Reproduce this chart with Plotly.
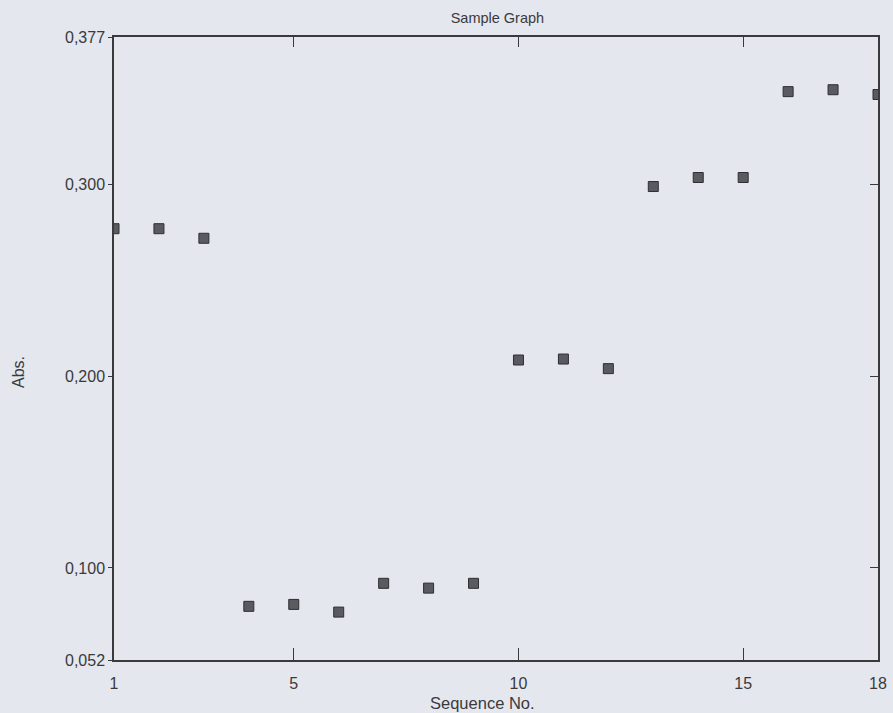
import plotly.graph_objects as go

# Absorbance readings per sequence number
sequence = list(range(1, 19))
absorbance = [0.277, 0.277, 0.272, 0.080, 0.081, 0.077, 0.092, 0.0895, 0.092,
              0.2085, 0.209, 0.204, 0.299, 0.3037, 0.3037, 0.3485, 0.3495, 0.347]

x_ticks = [1, 5, 10, 15, 18]
y_ticks = [0.052, 0.100, 0.200, 0.300, 0.377]
y_tick_text = ["0,052", "0,100", "0,200", "0,300", "0,377"]

bg = "#e4e7ee"
ink = "#3a3a3c"
font_family = "Liberation Sans, Arial, sans-serif"

x_range = [1, 18]
y_range = [0.052, 0.377]

fig = go.Figure()
fig.add_trace(go.Scatter(
    x=sequence, y=absorbance, mode="markers",
    marker=dict(symbol="square", size=10, color="#5a5b60",
                line=dict(color="#2e2f33", width=1)),
    cliponaxis=True, showlegend=False,
))
# Transparent copy on the mirrored axes so the top/right frame is drawn
fig.add_trace(go.Scatter(
    x=sequence, y=absorbance, xaxis="x2", yaxis="y2", mode="markers",
    marker=dict(opacity=0), hoverinfo="skip", showlegend=False,
))

W, H = 893, 713
fig.update_layout(
    width=W, height=H,
    margin=dict(l=114, r=15, t=37, b=53, autoexpand=False),
    paper_bgcolor=bg, plot_bgcolor=bg,
    font=dict(family=font_family, size=14, color=ink),
    title=dict(text="Sample Graph", x=0.557, xanchor="center", y=0.975,
               yanchor="middle", font=dict(size=14.5, color=ink)),
    xaxis=dict(
        range=x_range, tickvals=x_ticks, ticktext=[str(v) for v in x_ticks],
        ticks="inside", ticklen=12, tickwidth=1.2, tickcolor=ink,
        showline=True, linecolor=ink, linewidth=1.5,
        showgrid=False, zeroline=False, ticklabelstandoff=8,
        automargin=False, tickfont=dict(size=16),
    ),
    yaxis=dict(
        range=y_range, tickvals=y_ticks, ticktext=y_tick_text,
        ticks="outside", ticklen=4, tickwidth=1.2, tickcolor=ink,
        showline=True, linecolor=ink, linewidth=1.5,
        showgrid=False, zeroline=False, automargin=False,
        tickfont=dict(size=16),
    ),
    xaxis2=dict(
        overlaying="x", side="top", range=x_range, tickvals=x_ticks,
        ticks="inside", ticklen=10, tickwidth=1.2, tickcolor=ink,
        showticklabels=False, showline=True, linecolor=ink, linewidth=1.5,
        showgrid=False, zeroline=False,
    ),
    yaxis2=dict(
        overlaying="y", side="right", range=y_range, tickvals=y_ticks,
        ticks="inside", ticklen=8, tickwidth=1.2, tickcolor=ink,
        showticklabels=False, showline=True, linecolor=ink, linewidth=1.5,
        showgrid=False, zeroline=False,
    ),
    annotations=[
        dict(text="Sequence No.", xref="paper", yref="paper",
             x=(482 - 114) / (W - 114 - 15), y=-(703 - (H - 53)) / (H - 37 - 53),
             xanchor="center", yanchor="middle", showarrow=False,
             font=dict(size=16.5, color=ink)),
        dict(text="Abs.", xref="paper", yref="paper",
             x=-(114 - 18) / (W - 114 - 15), y=(H - 53 - 372) / (H - 37 - 53),
             xanchor="center", yanchor="middle", textangle=-90, showarrow=False,
             font=dict(size=16, color=ink)),
    ],
)

fig.write_html("out.html")
